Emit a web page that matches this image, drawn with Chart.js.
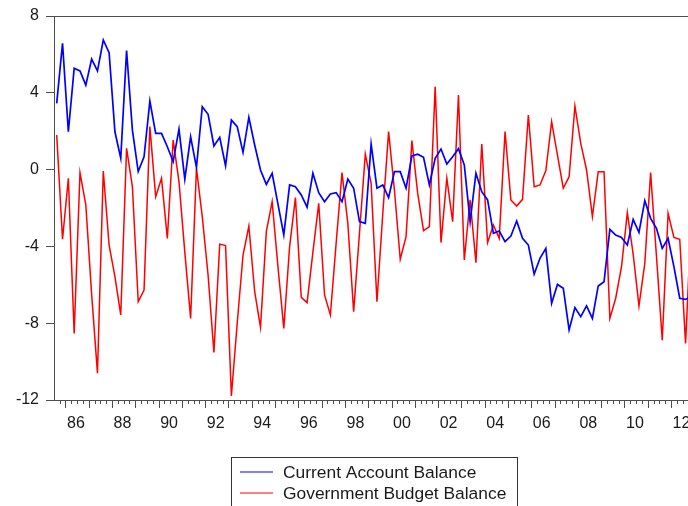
<!DOCTYPE html>
<html><head><meta charset="utf-8">
<script src="https://cdn.jsdelivr.net/npm/chart.js@4.4.1/dist/chart.umd.min.js"></script>
<style>html,body{margin:0;padding:0;background:#fff;}#wrap{width:688px;height:506px;}</style>
</head><body><div id="wrap"><canvas id="c" width="688" height="506"></canvas></div>
<script>
// Quarterly series starting 1985Q3
const startYear = 1985;
const startQuarter = 3;

const currentAccount = [
  3.45, 6.58, 1.97, 5.28, 5.14, 4.4, 5.76, 5.14, 6.75, 6.09,
  1.97, 0.59, 6.2, 2.06, -0.1, 0.67, 3.57, 1.89, 1.89, 1.19,
  0.41, 2.11, -0.5, 1.71, 0.12, 3.28, 2.88, 1.23, 1.68, 0.2,
  2.58, 2.24, 0.9, 2.72, 1.28, -0.02, -0.77, -0.19, -1.8, -3.4,
  -0.8, -0.89, -1.32, -1.96, -0.19, -1.2, -1.67, -1.27, -1.2, -1.67,
  -0.49, -0.97, -2.71, -2.8, 1.33, -0.97, -0.8, -1.46, -0.11, -0.11,
  -0.97, 0.71, 0.8, 0.64, -0.8, 0.59, 1.07, 0.29, 0.67, 1.09,
  0.24, -2.71, -0.19, -1.15, -1.58, -3.32, -3.2, -3.75, -3.46, -2.68,
  -3.58, -3.93, -5.44, -4.62, -4.1, -6.96, -5.98, -6.18, -8.35, -7.19,
  -7.66, -7.1, -7.75, -6.06, -5.84, -3.11, -3.41, -3.53, -3.93, -2.59,
  -3.27, -1.62, -2.54, -3.06, -4.1, -3.58, -5.05, -6.7, -6.76, -6.6
];

const budgetBalance = [
  1.8, -3.63, -0.45, -8.53, -0.16, -1.84, -6.5, -10.6, -0.07, -3.93,
  -5.58, -7.57, 1.11, -0.89, -6.88, -6.27, 2.24, -1.41, -0.45, -3.58,
  1.54, -0.63, -4.3, -7.75, 0.07, -2.45, -5.5, -9.52, -3.88, -3.96,
  -11.79, -8.0, -4.45, -2.94, -6.36, -8.21, -3.23, -1.67, -5.06, -8.27,
  -4.01, -1.46, -6.65, -6.93, -4.3, -1.76, -6.53, -7.57, -3.8, -0.16,
  -2.8, -7.4, -3.3, 0.81, -0.72, -6.88, -2.3, 1.98, -1.06, -4.67,
  -3.49, 1.51, -1.24, -3.18, -2.97, 4.32, -3.8, -0.45, -2.71, 3.89,
  -4.71, -1.58, -4.85, 1.33, -3.8, -2.89, -3.58, 1.98, -1.58, -1.9,
  -1.55, 2.84, -0.89, -0.8, -0.06, 2.5, 0.76, -0.97, -0.37, 3.31,
  1.37, -0.02, -2.45, -0.11, -0.11, -7.75, -6.7, -5.06, -2.24, -4.4,
  -7.1, -4.88, -0.16, -4.5, -8.88, -2.28, -3.53, -3.63, -9.05, -2.5
];

const seriesNames = ['Current Account Balance', 'Government Budget Balance'];
const seriesColors = ['#0000FF', '#FF0000'];
const yTickValues = [8, 4, 0, -4, -8, -12];
const xLabelYears = [1986,1988,1990,1992,1994,1996,1998,2000,2002,2004,2006,2008,2010,2012];
const xTickLabels = ['86','88','90','92','94','96','98','00','02','04','06','08','10','12'];

const X_MIN = 1985.509, X_MAX = 2012.73;

function toPoints(arr) {
  const t0 = startYear + (startQuarter - 1) / 4 + 0.125;
  return arr.map((v, i) => ({ x: t0 + i / 4, y: v }));
}

const FONT = 'Liberation Sans, Arial, sans-serif';
const AXIS = '#4d4d4d';

const framePlugin = {
  id: 'frame',
  afterDraw(chart) {
    const { ctx, chartArea } = chart;
    const xs = chart.scales.x;
    ctx.save();
    // top border
    ctx.strokeStyle = AXIS; ctx.lineWidth = 1;
    ctx.beginPath();
    ctx.moveTo(chartArea.left, chartArea.top + 0.5);
    ctx.lineTo(chartArea.right, chartArea.top + 0.5);
    ctx.stroke();
    // quarterly x ticks
    const start = Math.ceil(X_MIN * 4) / 4;
    ctx.beginPath();
    for (let t = start; t <= X_MAX + 1e-9; t += 0.25) {
      const px = Math.round(xs.getPixelForValue(t)) + 0.5;
      const isYear = Math.abs(t - Math.round(t)) < 1e-6;
      const len = isYear ? 8 : 4;
      ctx.moveTo(px, chartArea.bottom);
      ctx.lineTo(px, chartArea.bottom + len);
    }
    ctx.stroke();
    // legend box
    const bx = 231.5, by = 457.5, bw = 286, bh = 70;
    ctx.strokeStyle = '#333';
    ctx.strokeRect(bx, by, bw, bh);
    ctx.font = '17.4px ' + FONT;
    ctx.textBaseline = 'middle';
    ctx.fillStyle = '#1a1a1a';
    chart.data.datasets.forEach((ds, i) => {
      const y = 472 + i * 21;
      ctx.strokeStyle = ds.borderColor;
      ctx.lineWidth = 1.2;
      ctx.beginPath();
      ctx.moveTo(240, y); ctx.lineTo(273, y);
      ctx.stroke();
      ctx.fillText(ds.label, 283, y + 1);
    });
    ctx.restore();
  }
};

new Chart(document.getElementById('c'), {
  type: 'line',
  data: {
    datasets: [
      { label: seriesNames[0], data: toPoints(currentAccount), borderColor: seriesColors[0], borderWidth: 1.7 },
      { label: seriesNames[1], data: toPoints(budgetBalance), borderColor: seriesColors[1], borderWidth: 1.5 }
    ]
  },
  options: {
    responsive: false,
    animation: false,
    devicePixelRatio: 1,
    layout: { padding: { top: 16, right: 0, left: 0, bottom: 0 } },
    elements: { point: { radius: 0 }, line: { tension: 0, fill: false } },
    plugins: { legend: { display: false }, tooltip: { enabled: false } },
    scales: {
      x: {
        type: 'linear', min: X_MIN, max: X_MAX,
        grid: { display: true, drawOnChartArea: false, drawTicks: false },
        border: { display: true, color: AXIS, width: 1 },
        ticks: {
          autoSkip: false, maxRotation: 0, padding: 14,
          color: '#1a1a1a', font: { family: FONT, size: 16 },
          callback: (v, i) => xTickLabels[i]
        },
        afterBuildTicks: (s) => { s.ticks = xLabelYears.map(y => ({ value: y + 0.45 })); },
        afterFit: (s) => { s.height = 106; s.paddingLeft = 0; s.paddingRight = 0; }
      },
      y: {
        min: -12, max: 8,
        grid: { drawOnChartArea: false, drawTicks: true, tickLength: 8, tickColor: AXIS },
        border: { display: true, color: AXIS, width: 1 },
        ticks: { padding: 7, color: '#1a1a1a', font: { family: FONT, size: 16 } },
        afterBuildTicks: (s) => { s.ticks = yTickValues.map(v => ({ value: v })); },
        afterFit: (s) => { s.width = 54; s.paddingTop = 0; s.paddingBottom = 0; }
      }
    }
  },
  plugins: [framePlugin]
});
</script>
</body></html>
